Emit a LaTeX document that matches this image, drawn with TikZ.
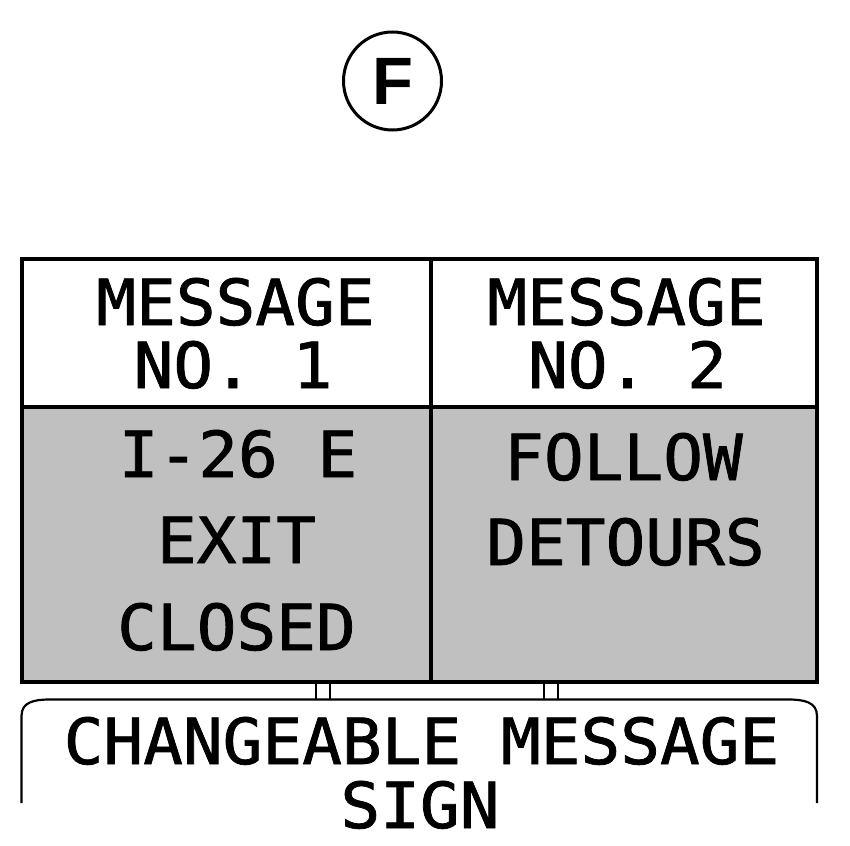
\documentclass[tikz,border=0pt]{standalone}
\usepackage{fontspec}
\newfontfamily\signfont[FakeStretch=1.04,FakeBold=1.2]{DejaVu Sans Mono}
\newfontfamily\tagfont{Liberation Sans}
\definecolor{signgray}{RGB}{192,192,192}
\tikzset{
  signtext/.style={anchor=base, inner sep=0pt, font=\signfont\fontsize{63.5}{63.5}\selectfont},
  boxline/.style={line width=4pt},
  thinline/.style={line width=2.2pt},
}
\begin{document}
\begin{tikzpicture}[x=1pt,y=-1pt]
\useasboundingbox (0,0) rectangle (850,845);
% tag circle
\node[circle, draw, line width=3pt, minimum size=98pt, inner sep=0pt,
      font=\tagfont\bfseries\fontsize{67}{67}\selectfont] (tag) at (392.5,81) {F};
% sign panel
\fill[signgray] (21.5,407) rectangle (817,682);
\draw[boxline] (21.5,258.5) rectangle (817,682);
\coordinate (divtop) at (431,258.5);
\coordinate (divbot) at (431,682);
\coordinate (hl) at (21.5,407);
\coordinate (hr) at (817,407);
\draw[boxline] (divtop) -- (divbot);
\draw[boxline] (hl) -- (hr);
% texts
\node[signtext] (m1a) at (235.5,325) {MESSAGE};
\node[signtext] (m1b) at (233,388) {NO. 1};
\node[signtext] (m2a) at (626.5,325) {MESSAGE};
\node[signtext] (m2b) at (627.5,388) {NO. 2};
\node[signtext] (l1) at (238,477) {I-26 E};
\node[signtext] (l2) at (236.5,563) {EXIT};
\node[signtext] (l3) at (236.5,650) {CLOSED};
\node[signtext] (r1) at (623.5,480) {FOLLOW};
\node[signtext] (r2) at (625.5,565) {DETOURS};
% posts
\foreach \px in {316,330,544,558}{
  \draw[thinline] (\px,684) -- (\px,699.5);
}
% bracket
\coordinate (bl) at (21.5,803);
\coordinate (br) at (817,803);
\draw[thinline] (bl) -- (21.5,716) .. controls (21.5,702) and (34,699.5) .. (50,699.5)
   -- (788,699.5) .. controls (804,699.5) and (817,702) .. (817,716) -- (br);
\node[signtext] (cms) at (421.5,764) {CHANGEABLE MESSAGE};
\node[signtext] (sign) at (420,828) {SIGN};
\end{tikzpicture}
\end{document}
